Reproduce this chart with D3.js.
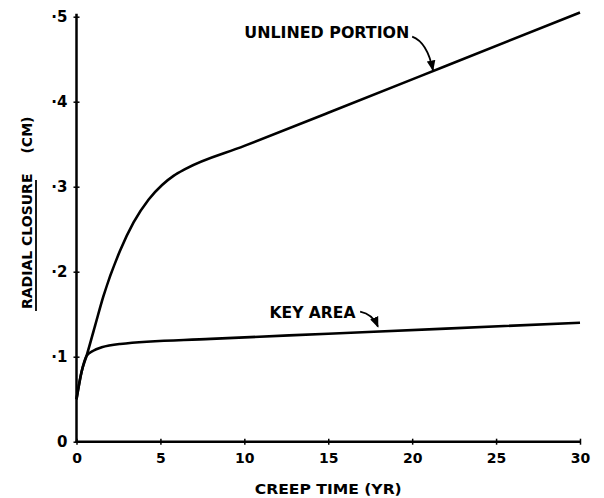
<!DOCTYPE html>
<html><head><meta charset="utf-8">
<script src="https://cdn.jsdelivr.net/npm/d3@7"></script>
<style>body{margin:0;background:#fff}svg{display:block}text{font-family:"DejaVu Sans",sans-serif;fill:#000}</style>
</head><body><svg id="c" width="604" height="498"></svg>
<script>
const xTicks=[0,5,10,15,20,25,30];
const xTickLabels=["0","5","10","15","20","25","30"];
const yTicks=[0,0.1,0.2,0.3,0.4,0.5];
const yTickLabels=["0","·1","·2","·3","·4","·5"];
const unlinedT=[0,0.3,0.6,1.1,1.6,2.6,3.4,4.3,5.1,5.8,6.5,10,15,22,30];
const unlinedV=[0.05,0.082,0.101,0.136,0.171,0.225,0.258,0.285,0.302,0.313,0.321,0.348,0.387,0.442,0.505];
const keyT=[0,0.3,0.6,1,1.5,2.6,8,15,22,30];
const keyV=[0.05,0.082,0.101,0.107,0.111,0.115,0.121,0.127,0.133,0.14];
const labelUnlined={text:"UNLINED PORTION",t:10.0,v:0.475,arrow:[[20.0,0.4765],[20.9,0.470],[21.24,0.437]]};
const labelKey={text:"KEY AREA",t:11.5,v:0.1455,arrow:[[16.9,0.1529],[17.65,0.150],[17.96,0.1353]]};

const svg=d3.select("#c");
const x=d3.scaleLinear().domain([0,30]).range([76.5,580]);
const y=d3.scaleLinear().domain([0,0.5]).range([441.7,16.7]);

// axes
const gx=svg.append("g").attr("transform",`translate(0,${y(0)})`)
  .call(d3.axisBottom(x).tickValues(xTicks).tickFormat((d,i)=>xTickLabels[i]).tickSize(3).tickPadding(8));
gx.select(".domain").remove();
gx.selectAll(".tick line").attr("y1",-3).attr("y2",3).attr("stroke","#000").attr("stroke-width",1.5);
gx.selectAll(".tick text").attr("font-size",14).attr("font-family","DejaVu Sans").attr("font-weight","bold");
gx.append("line").attr("x1",x(0)-1).attr("x2",x(30)).attr("y1",0).attr("y2",0).attr("stroke","#000").attr("stroke-width",2.5);

const gy=svg.append("g").attr("transform",`translate(${x(0)},0)`)
  .call(d3.axisLeft(y).tickValues(yTicks).tickFormat((d,i)=>yTickLabels[i]).tickSize(3).tickPadding(6));
gy.select(".domain").remove();
gy.selectAll(".tick line").attr("x1",-3).attr("x2",3).attr("stroke","#000").attr("stroke-width",1.5);
gy.selectAll(".tick text").attr("font-size",15).attr("font-family","DejaVu Sans").attr("font-weight","bold");
gy.append("line").attr("x1",0).attr("x2",0).attr("y1",y(0)+1).attr("y2",y(0.5)-3).attr("stroke","#000").attr("stroke-width",2.5);

// curves
const line=d3.line().x(d=>x(d[0])).y(d=>y(d[1])).curve(d3.curveMonotoneX);
svg.append("path").attr("d",line(unlinedT.map((t,i)=>[t,unlinedV[i]])))
  .attr("fill","none").attr("stroke","#000").attr("stroke-width",2.6).attr("stroke-linejoin","round");
svg.append("path").attr("d",line(keyT.map((t,i)=>[t,keyV[i]])))
  .attr("fill","none").attr("stroke","#000").attr("stroke-width",2.6).attr("stroke-linejoin","round");

// arrow marker
svg.append("defs").append("marker").attr("id","ah").attr("viewBox","0 0 10 10")
  .attr("refX",9).attr("refY",5).attr("markerWidth",6).attr("markerHeight",6).attr("orient","auto")
  .append("path").attr("d","M0,1 L10,5 L0,9 Z").attr("fill","#000");

const arrowPath=a=>{const p=d3.path();p.moveTo(x(a[0][0]),y(a[0][1]));p.quadraticCurveTo(x(a[1][0]),y(a[1][1]),x(a[2][0]),y(a[2][1]));return p.toString();};
[labelUnlined,labelKey].forEach((L,i)=>{
  svg.append("text").attr("x",x(L.t)).attr("y",y(L.v)).attr("font-size",i===0?16:15).attr("font-weight","bold")
    .attr("textLength",i===0?165:86).attr("lengthAdjust","spacingAndGlyphs").text(L.text);
  svg.append("path").attr("d",arrowPath(L.arrow)).attr("fill","none").attr("stroke","#000")
    .attr("stroke-width",1.8).attr("marker-end","url(#ah)");
});

// axis titles
svg.append("text").attr("x",(x(0)+x(30))/2).attr("y",494).attr("text-anchor","middle").attr("font-weight","bold")
  .attr("font-size",14).attr("textLength",147).attr("lengthAdjust","spacingAndGlyphs").text("CREEP TIME (YR)");
const yt=svg.append("text").attr("transform","translate(32,309) rotate(-90)").attr("font-size",14).attr("font-weight","bold");
yt.append("tspan").text("RADIAL CLOSURE");
yt.append("tspan").attr("dx",20).text("(CM)");
svg.append("line").attr("x1",36).attr("x2",36).attr("y1",311).attr("y2",180).attr("stroke","#000").attr("stroke-width",1.8);
</script></body></html>
